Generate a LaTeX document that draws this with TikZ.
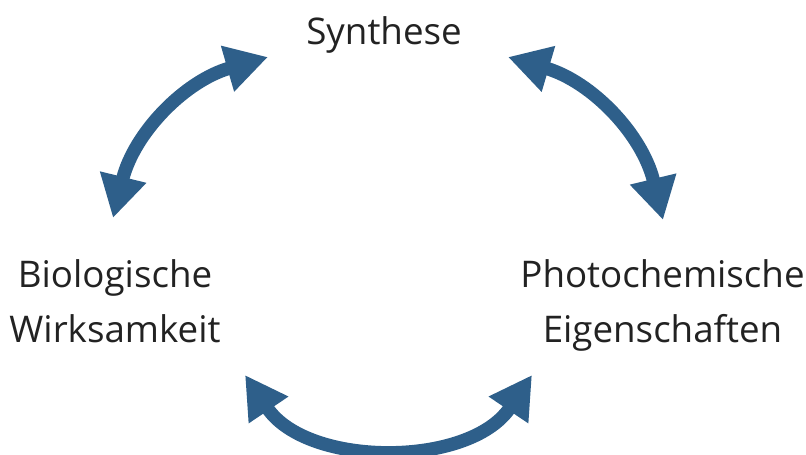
\documentclass[tikz,border=0pt]{standalone}
\usepackage{fontspec}
\setmainfont{Open Sans}
\usetikzlibrary{arrows.meta}
\definecolor{steel}{RGB}{46, 95, 138}
\definecolor{ink}{RGB}{34, 34, 34}

\begin{document}
\begin{tikzpicture}[
        topic/.style={text=ink, font=\fontsize{20.9}{31.2}\selectfont, align=center, inner sep=0pt},
        cycle/.style={color=steel, line width=7.6pt,
                      {Triangle[length=24pt, width=25.5pt]}-{Triangle[length=24pt, width=25.5pt]}}
    ]
            % Frame to ensure alignment:
            \useasboundingbox                                                 ( 0.00, 0.00) rectangle (16.12, 9.08);
            % Topics
            \node[topic, anchor=base]  (syn)   at ( 7.68, 8.20) {Synthese};
            \node[topic, anchor=north] (bio)   at ( 2.30, 3.90) {Biologische\\Wirksamkeit};
            \node[topic, anchor=north] (photo) at (13.25, 3.90) {Photochemische\\Eigenschaften};
            % Arrow ends
            \coordinate (bio-up)    at ( 2.26, 4.72);
            \coordinate (syn-left)  at ( 5.36, 7.94);
            \coordinate (syn-right) at (10.16, 7.94);
            \coordinate (photo-up)  at (13.26, 4.68);
            \coordinate (bio-down)  at ( 4.90, 1.58);
            \coordinate (photo-down) at (10.64, 1.58);
            % Cycle arrows
            \draw[cycle] (bio-up)    to[bend left=30]  (syn-left);
            \draw[cycle] (syn-right) to[bend left=30]  (photo-up);
            \draw[cycle] (bio-down)  to[bend right=56] (photo-down);
\end{tikzpicture}
\end{document}
